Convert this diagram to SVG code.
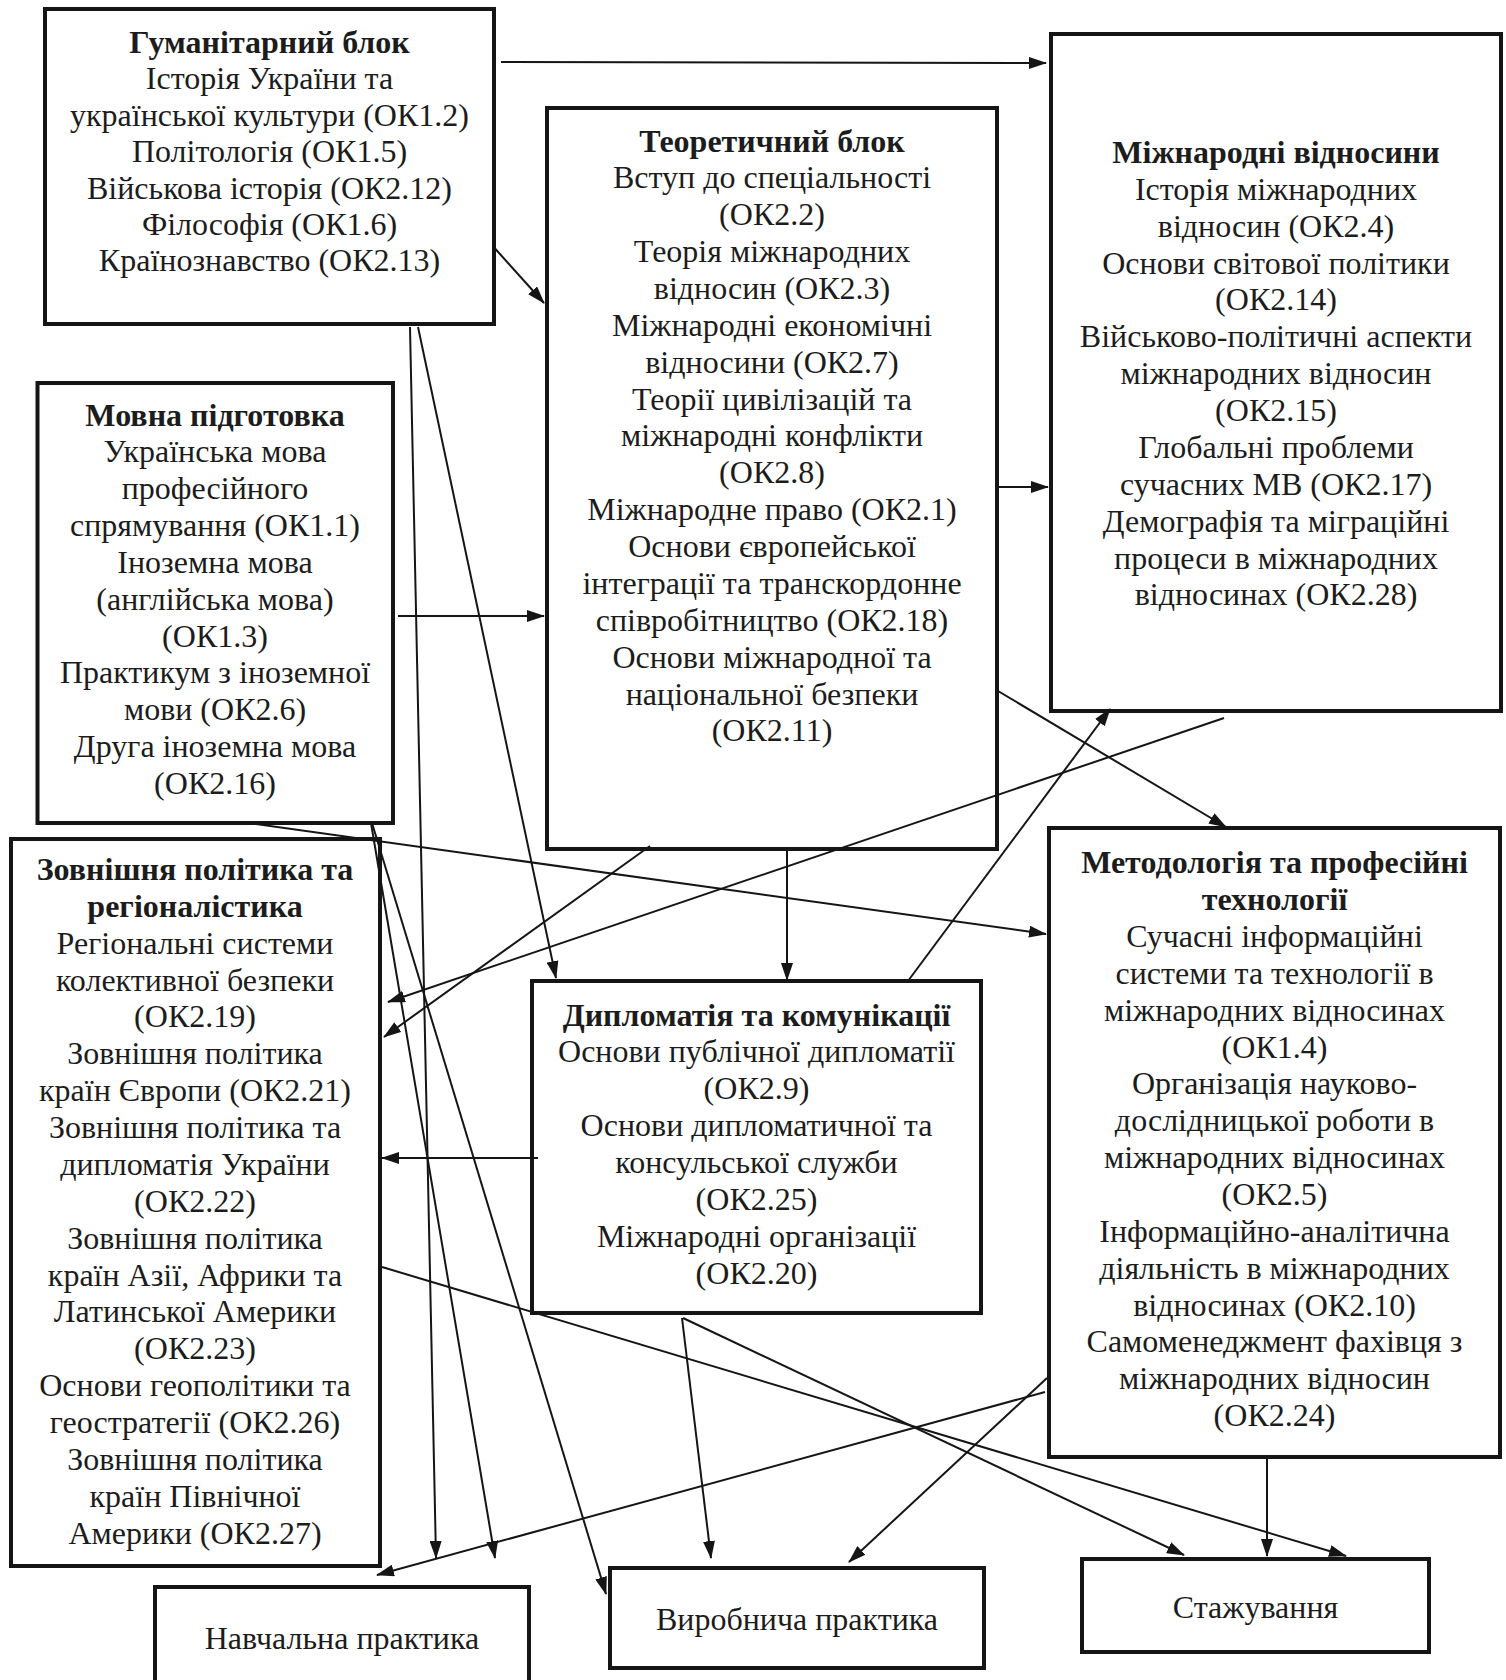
<svg xmlns="http://www.w3.org/2000/svg" width="1506" height="1680" viewBox="0 0 1506 1680">
<style>
.box{fill:#fff;stroke:#151515;stroke-width:4}
.t{font-family:"Liberation Serif","Times New Roman",serif;font-size:32px;fill:#1c1c1c;text-anchor:middle}
.b{font-weight:bold}
.c line{stroke:#151515;stroke-width:2;fill:none}
</style>
<defs>
<marker id="ah" markerUnits="userSpaceOnUse" markerWidth="18" markerHeight="12" refX="17" refY="6" orient="auto">
<path d="M0,0 L18,6 L0,12 z" fill="#151515"/>
</marker>
</defs>
<rect width="1506" height="1680" fill="#fff"/>

<g id="n-humanitarian">
<rect class="box" x="45" y="9" width="449" height="315"/>
<text class="t" x="269.5" y="53"><tspan class="b" x="269.5">Гуманітарний блок</tspan><tspan x="269.5" dy="36.4">Історія України та</tspan><tspan x="269.5" dy="36.4">української культури (ОК1.2)</tspan><tspan x="269.5" dy="36.4">Політологія (ОК1.5)</tspan><tspan x="269.5" dy="36.4">Військова історія (ОК2.12)</tspan><tspan x="269.5" dy="36.4">Філософія (ОК1.6)</tspan><tspan x="269.5" dy="36.4">Країнознавство (ОК2.13)</tspan></text>
</g>

<g id="n-theory">
<rect class="box" x="547" y="108" width="450" height="741"/>
<text class="t" x="772" y="151.5"><tspan class="b" x="772">Теоретичний блок</tspan><tspan x="772" dy="36.87">Вступ до спеціальності</tspan><tspan x="772" dy="36.87">(ОК2.2)</tspan><tspan x="772" dy="36.87">Теорія міжнародних</tspan><tspan x="772" dy="36.87">відносин (ОК2.3)</tspan><tspan x="772" dy="36.87">Міжнародні економічні</tspan><tspan x="772" dy="36.87">відносини (ОК2.7)</tspan><tspan x="772" dy="36.87">Теорії цивілізацій та</tspan><tspan x="772" dy="36.87">міжнародні конфлікти</tspan><tspan x="772" dy="36.87">(ОК2.8)</tspan><tspan x="772" dy="36.87">Міжнародне право (ОК2.1)</tspan><tspan x="772" dy="36.87">Основи європейської</tspan><tspan x="772" dy="36.87">інтеграції та транскордонне</tspan><tspan x="772" dy="36.87">співробітництво (ОК2.18)</tspan><tspan x="772" dy="36.87">Основи міжнародної та</tspan><tspan x="772" dy="36.87">національної безпеки</tspan><tspan x="772" dy="36.87">(ОК2.11)</tspan></text>
</g>

<g id="n-ir">
<rect class="box" x="1051" y="34" width="450" height="677"/>
<text class="t" x="1276" y="163"><tspan class="b" x="1276">Міжнародні відносини</tspan><tspan x="1276" dy="36.87">Історія міжнародних</tspan><tspan x="1276" dy="36.87">відносин (ОК2.4)</tspan><tspan x="1276" dy="36.87">Основи світової політики</tspan><tspan x="1276" dy="36.87">(ОК2.14)</tspan><tspan x="1276" dy="36.87">Військово-політичні аспекти</tspan><tspan x="1276" dy="36.87">міжнародних відносин</tspan><tspan x="1276" dy="36.87">(ОК2.15)</tspan><tspan x="1276" dy="36.87">Глобальні проблеми</tspan><tspan x="1276" dy="36.87">сучасних МВ (ОК2.17)</tspan><tspan x="1276" dy="36.87">Демографія та міграційні</tspan><tspan x="1276" dy="36.87">процеси в міжнародних</tspan><tspan x="1276" dy="36.87">відносинах (ОК2.28)</tspan></text>
</g>

<g id="n-language">
<rect class="box" x="37.5" y="383" width="355.5" height="440"/>
<text class="t" x="215" y="425.6"><tspan class="b" x="215">Мовна підготовка</tspan><tspan x="215" dy="36.84">Українська мова</tspan><tspan x="215" dy="36.84">професійного</tspan><tspan x="215" dy="36.84">спрямування (ОК1.1)</tspan><tspan x="215" dy="36.84">Іноземна мова</tspan><tspan x="215" dy="36.84">(англійська мова)</tspan><tspan x="215" dy="36.84">(ОК1.3)</tspan><tspan x="215" dy="36.84">Практикум з іноземної</tspan><tspan x="215" dy="36.84">мови (ОК2.6)</tspan><tspan x="215" dy="36.84">Друга іноземна мова</tspan><tspan x="215" dy="36.84">(ОК2.16)</tspan></text>
</g>

<g id="n-foreign">
<rect class="box" x="11" y="839" width="369" height="727"/>
<text class="t" x="195" y="880"><tspan class="b" x="195">Зовнішня політика та</tspan><tspan class="b" x="195" dy="36.87">регіоналістика</tspan><tspan x="195" dy="36.87">Регіональні системи</tspan><tspan x="195" dy="36.87">колективної безпеки</tspan><tspan x="195" dy="36.87">(ОК2.19)</tspan><tspan x="195" dy="36.87">Зовнішня політика</tspan><tspan x="195" dy="36.87">країн Європи (ОК2.21)</tspan><tspan x="195" dy="36.87">Зовнішня політика та</tspan><tspan x="195" dy="36.87">дипломатія України</tspan><tspan x="195" dy="36.87">(ОК2.22)</tspan><tspan x="195" dy="36.87">Зовнішня політика</tspan><tspan x="195" dy="36.87">країн Азії, Африки та</tspan><tspan x="195" dy="36.87">Латинської Америки</tspan><tspan x="195" dy="36.87">(ОК2.23)</tspan><tspan x="195" dy="36.87">Основи геополітики та</tspan><tspan x="195" dy="36.87">геостратегії (ОК2.26)</tspan><tspan x="195" dy="36.87">Зовнішня політика</tspan><tspan x="195" dy="36.87">країн Північної</tspan><tspan x="195" dy="36.87">Америки (ОК2.27)</tspan></text>
</g>

<g id="n-diplomacy">
<rect class="box" x="532" y="981" width="449" height="332"/>
<text class="t" x="756.5" y="1025.5"><tspan class="b" x="756.5">Дипломатія та комунікації</tspan><tspan x="756.5" dy="36.86">Основи публічної дипломатії</tspan><tspan x="756.5" dy="36.86">(ОК2.9)</tspan><tspan x="756.5" dy="36.86">Основи дипломатичної та</tspan><tspan x="756.5" dy="36.86">консульської служби</tspan><tspan x="756.5" dy="36.86">(ОК2.25)</tspan><tspan x="756.5" dy="36.86">Міжнародні організації</tspan><tspan x="756.5" dy="36.86">(ОК2.20)</tspan></text>
</g>

<g id="n-method">
<rect class="box" x="1049" y="828" width="451" height="629"/>
<text class="t" x="1274.5" y="873.3"><tspan class="b" x="1274.5">Методологія та професійні</tspan><tspan class="b" x="1274.5" dy="36.85">технології</tspan><tspan x="1274.5" dy="36.85">Сучасні інформаційні</tspan><tspan x="1274.5" dy="36.85">системи та технології в</tspan><tspan x="1274.5" dy="36.85">міжнародних відносинах</tspan><tspan x="1274.5" dy="36.85">(ОК1.4)</tspan><tspan x="1274.5" dy="36.85">Організація науково-</tspan><tspan x="1274.5" dy="36.85">дослідницької роботи в</tspan><tspan x="1274.5" dy="36.85">міжнародних відносинах</tspan><tspan x="1274.5" dy="36.85">(ОК2.5)</tspan><tspan x="1274.5" dy="36.85">Інформаційно-аналітична</tspan><tspan x="1274.5" dy="36.85">діяльність в міжнародних</tspan><tspan x="1274.5" dy="36.85">відносинах (ОК2.10)</tspan><tspan x="1274.5" dy="36.85">Самоменеджмент фахівця з</tspan><tspan x="1274.5" dy="36.85">міжнародних відносин</tspan><tspan x="1274.5" dy="36.85">(ОК2.24)</tspan></text>
</g>

<g id="n-study-practice">
<rect class="box" x="155" y="1587" width="374" height="120"/>
<text class="t" x="342" y="1649">Навчальна практика</text>
</g>

<g id="n-work-practice">
<rect class="box" x="610" y="1568" width="374" height="100"/>
<text class="t" x="797" y="1629.5">Виробнича практика</text>
</g>

<g id="n-internship">
<rect class="box" x="1082" y="1559" width="347" height="93"/>
<text class="t" x="1255.5" y="1618">Стажування</text>
</g>

<g id="connectors" class="c">
<line x1="501" y1="62" x2="1046" y2="63" marker-end="url(#ah)"/>
<line x1="495" y1="248.5" x2="544" y2="303" marker-end="url(#ah)"/>
<line x1="410" y1="327" x2="436" y2="1558" marker-end="url(#ah)"/>
<line x1="418" y1="327" x2="556" y2="978" marker-end="url(#ah)"/>
<line x1="372" y1="823" x2="606" y2="1594" marker-end="url(#ah)"/>
<line x1="371" y1="823" x2="495" y2="1558" marker-end="url(#ah)"/>
<line x1="248.5" y1="823" x2="1046" y2="934" marker-end="url(#ah)"/>
<line x1="398" y1="616" x2="544" y2="616" marker-end="url(#ah)"/>
<line x1="998" y1="487" x2="1048" y2="487" marker-end="url(#ah)"/>
<line x1="998" y1="691" x2="1226" y2="827" marker-end="url(#ah)"/>
<line x1="787" y1="849" x2="787" y2="980" marker-end="url(#ah)"/>
<line x1="650" y1="846" x2="384" y2="1037" marker-end="url(#ah)"/>
<line x1="1224" y1="718" x2="388" y2="1002" marker-end="url(#ah)"/>
<line x1="908" y1="981" x2="1110" y2="709" marker-end="url(#ah)"/>
<line x1="538" y1="1158" x2="382" y2="1158" marker-end="url(#ah)"/>
<line x1="682" y1="1318" x2="711" y2="1558" marker-end="url(#ah)"/>
<line x1="683" y1="1318" x2="1184" y2="1555" marker-end="url(#ah)"/>
<line x1="382" y1="1267" x2="1346" y2="1556" marker-end="url(#ah)"/>
<line x1="1045" y1="1392" x2="377" y2="1575" marker-end="url(#ah)"/>
<line x1="1047" y1="1378" x2="849" y2="1562" marker-end="url(#ah)"/>
<line x1="1267" y1="1457" x2="1267" y2="1556" marker-end="url(#ah)"/>
</g>
</svg>
